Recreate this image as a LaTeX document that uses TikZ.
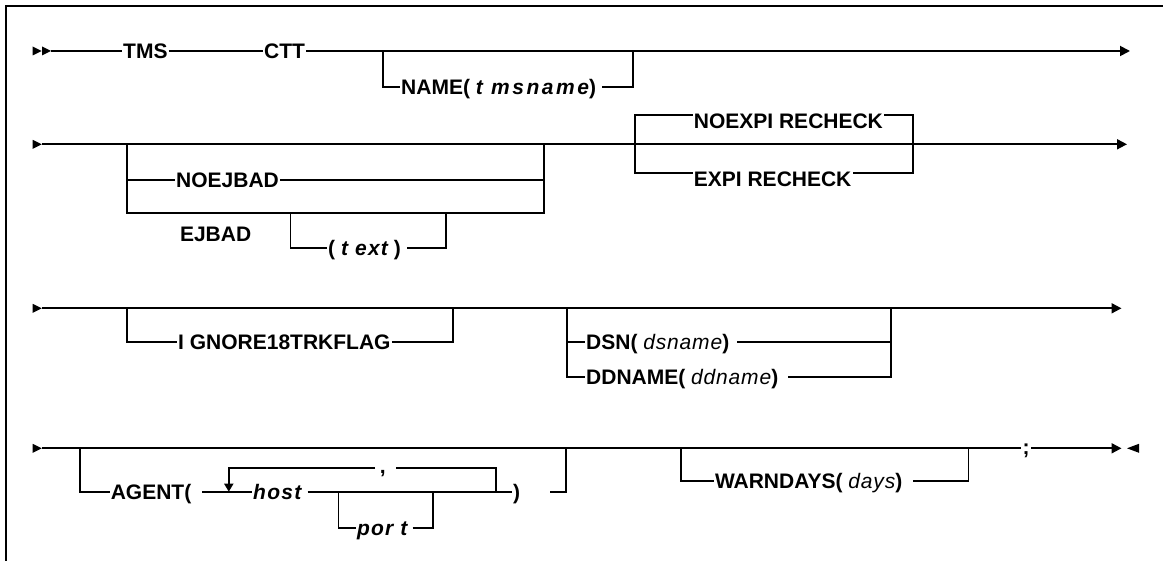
\documentclass[tikz,border=0pt]{standalone}
\usepackage{fontspec}
\setmainfont{Liberation Sans}
\usetikzlibrary{arrows.meta,positioning}
\newcommand\argit[1]{{\itshape\addfontfeatures{LetterSpace=6}#1}}
\newcommand\argrm[1]{{\mdseries\itshape\addfontfeatures{LetterSpace=4}#1}}
\newcommand\railstart[2]{\fill (#1,#2-4.5) -- (#1+9,#2) -- (#1,#2+4.5) -- cycle;}

\begin{document}
\begin{tikzpicture}[x=1pt,y=-1pt,
  kw/.style={inner xsep=1pt,inner ysep=0pt,text height=15pt,text depth=0pt,
    anchor=west,font=\fontsize{21}{24}\selectfont\bfseries},
  rail/.style={line width=1.8pt},
  endrail/.style={rail,-{Triangle[length=10pt,width=10pt]}},
  looprail/.style={rail,-{Triangle[length=8pt,width=9pt]}},
  frame/.style={line width=2pt}]
\useasboundingbox (0,0) rectangle (1163,561);
\draw[frame] (1163,6.5) -- (5.5,6.5) -- (5.5,561);

\railstart{32.7}{51}
\railstart{42}{51}
\coordinate (r1) at (51,51);
\node[kw] (tms) at (122,51) {TMS};
\node[kw] (ctt) at (263,51) {CTT};
\node[kw] (name) at (400,87.3) {NAME( {\itshape\addfontfeatures{LetterSpace=12}t msname})};
\draw[rail] (r1) -- (tms.west);
\draw[rail] (tms.east) -- (ctt.west);
\draw[endrail] (ctt.east) -- (1130,51);
\draw[rail] (382.7,51) |- (name.west);
\draw[rail] ([xshift=5pt]name.east) -| (633,51);

\railstart{32.7}{144.3}
\draw[endrail] (41.7,144.3) -- (1127,144.3);
\node[kw] (noejbad) at (175,180) {NOEJBAD};
\node[kw] (ejbad) at (178.8,233.8) {EJBAD};
\node[kw] (textarg) at (327,248.3) {( \argit{t ext} )};
\draw[rail] (127,144.3) |- (noejbad.west);
\draw[rail] (noejbad.east) -| (544.2,144.3);
\draw[rail] (127,180) |- (544.2,213.3) -- (544.2,180);
\draw[rail] (290.4,213.3) |- (textarg.west);
\draw[rail] ([xshift=5pt]textarg.east) -| (446,213.3);
\node[kw] (noexpi) at (692.7,120.8) {NOEXPI RECHECK};
\node[kw] (expi) at (692.7,179.2) {EXPI RECHECK};
\coordinate (nxtop) at (635,115);
\coordinate (nxbot) at (635,173.3);
\draw[rail] (nxtop -| noexpi.west) -- (nxtop) -- (nxbot) -- (nxbot -| expi.west);
\draw[rail] (nxtop -| noexpi.east) -- (913,115) -- (913,173.3) -- (nxbot -| expi.east);

\railstart{32.7}{308.3}
\draw[endrail] (41.7,308.3) -- (1121.5,308.3);
\node[kw] (ignore) at (177,341.7) {I GNORE18TRKFLAG};
\draw[rail] (127,308.3) |- (ignore.west);
\draw[rail] (ignore.east) -| (453,308.3);
\node[kw] (dsn) at (585,341.7) {DSN( \argrm{dsname})};
\node[kw] (ddname) at (585,376.7) {DDNAME( \argrm{ddname})};
\draw[rail] (567,308.3) |- (ddname.west);
\draw[rail] (567,341.7) -- (dsn.west);
\draw[rail] ([xshift=7pt]dsn.east) -| (890.8,308.3);
\draw[rail] ([xshift=9pt]ddname.east) -| (890.8,341.7);

\railstart{32.7}{448.3}
\draw[endrail] (41.7,448.3) -- (1121.5,448.3);
\fill (1127,448.3) -- (1139,443.8) -- (1139,452.8) -- cycle;
\node[kw] (agent) at (109.6,491.7) {AGENT(};
\node[kw] (host) at (252,491.7) {\argit{host}};
\node[kw,anchor=base] (comma) at (382.7,473) {,};
\node[kw] (port) at (355.8,528.3) {\argit{por t}};
\node[kw] (rparen) at (512,491.7) {)};
\node[kw] (warn) at (713.8,480.7) {WARNDAYS( \argrm{days})};
\node[kw,anchor=base,fill=white,inner xsep=1.5pt] (semi) at (1026,454) {;};
\coordinate (lpl) at (228.8,491.7);
\coordinate (lpr) at (496,491.7);
\draw[rail] (80,448.3) |- (agent.west);
\draw[rail] (202,491.7) -- (host.west);
\draw[rail] ([xshift=5pt]host.east) -- (rparen.west);
\draw[rail] (lpr) -- (lpr |- 0,468.3) -- (396,468.3);
\draw[looprail] (375,468.3) -- (lpl |- 0,468.3) -- (lpl);
\draw[rail] (338.5,491.7) |- (port.west);
\draw[rail] ([xshift=4pt]port.east) -| (432.7,491.7);
\draw[rail] (550,491.7) -| (566,448.3);
\draw[rail] (681,448.3) |- (warn.west);
\draw[rail] ([xshift=10pt]warn.east) -| (968.5,448.3);
\end{tikzpicture}
\end{document}
